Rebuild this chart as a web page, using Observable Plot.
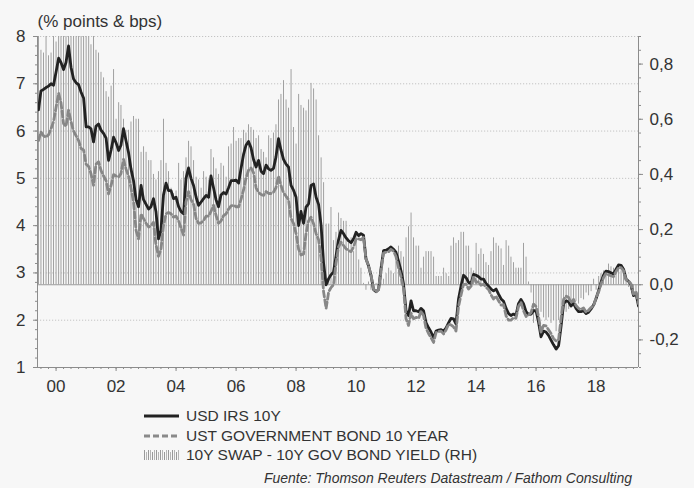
<!DOCTYPE html>
<html><head><meta charset="utf-8">
<script src="https://cdn.jsdelivr.net/npm/d3@7"></script>
<script src="https://cdn.jsdelivr.net/npm/@observablehq/plot@0.6"></script>
<style>
html,body{margin:0;padding:0;background:#f7f7f7;}
#wrap{position:relative;width:694px;height:488px;font-family:"Liberation Sans",Arial,sans-serif;color:#333;overflow:hidden;}
#chart{position:absolute;left:0;top:0;}
.leg{position:absolute;left:144px;height:20px;line-height:20px;font-size:15.5px;display:flex;align-items:center;white-space:nowrap;}
.leg svg{margin-right:7px;display:block;}
#cap{position:absolute;right:62px;top:468px;line-height:20px;font-style:italic;font-size:14px;white-space:nowrap;}
</style></head>
<body><div id="wrap"><div id="chart"></div>
<div class="leg" style="top:406px"><svg width="35" height="20"><line x1="0" x2="35" y1="10" y2="10" stroke="#222" stroke-width="3"/></svg><span id="l1"></span></div>
<div class="leg" style="top:426px"><svg width="35" height="20"><line x1="0" x2="35" y1="10" y2="10" stroke="#8a8a8a" stroke-width="3" stroke-dasharray="6,3"/></svg><span id="l2"></span></div>
<div class="leg" style="top:445px"><svg id="barsw" width="35" height="20"></svg><span id="l3"></span></div>
<div id="cap"></div>
</div>
<script>
// ---- data (monthly, Jun 1999 .. Jun 2019) ----
const firstMonth = [1999, 5]; // year, month index (0 = Jan)
const irs10y = [
 6.45,6.85,6.88,6.92,6.95,7.00,6.97,
 7.25,7.54,7.45,7.30,7.45,7.80,7.35,7.10,7.02,6.98,6.82,6.70,
 6.09,6.09,6.05,5.77,6.10,6.15,6.02,5.95,5.85,5.38,5.60,5.87,
 5.75,5.59,5.70,6.05,5.80,5.55,5.20,4.95,4.55,4.40,4.85,4.55,
 4.45,4.35,4.40,4.57,4.30,3.72,3.90,4.65,4.90,4.74,4.74,4.57,
 4.60,4.40,4.30,4.25,5.00,5.22,5.00,4.85,4.60,4.43,4.50,4.57,
 4.64,4.60,5.05,4.80,4.55,4.40,4.65,4.70,4.67,4.80,4.95,4.95,
 4.96,4.90,5.20,5.50,5.70,5.78,5.65,5.40,5.24,5.38,5.15,5.10,
 5.28,5.20,5.17,5.21,5.45,5.84,5.60,5.40,5.30,5.24,4.85,4.75,
 4.60,4.00,4.30,4.05,4.39,4.46,4.85,4.88,4.60,4.45,4.00,3.20,
 2.75,2.88,2.96,3.02,3.35,3.70,3.90,3.83,3.74,3.68,3.64,3.72,
 3.86,3.79,3.83,3.80,3.30,3.15,2.95,2.65,2.60,2.65,3.10,3.47,
 3.48,3.51,3.55,3.50,3.44,3.25,3.05,2.77,2.20,2.10,2.41,2.20,
 2.20,2.18,2.25,2.20,1.95,1.84,1.75,1.63,1.77,1.79,1.80,1.77,
 1.84,1.95,2.04,2.03,1.92,2.45,2.72,2.95,2.90,2.80,2.78,2.97,
 2.95,2.92,2.87,2.87,2.78,2.72,2.66,2.62,2.66,2.55,2.45,2.40,
 2.25,2.14,2.10,2.13,2.10,2.35,2.44,2.35,2.18,2.12,2.13,2.20,
 2.20,1.95,1.65,1.77,1.75,1.68,1.58,1.48,1.39,1.46,1.88,2.35,
 2.41,2.39,2.30,2.36,2.25,2.18,2.18,2.20,2.14,2.17,2.24,2.32,
 2.46,2.63,2.80,2.95,3.04,3.03,3.00,2.98,3.08,3.17,3.16,3.08,
 2.87,2.82,2.75,2.52,2.57,2.30
];
const ust10y = [
 5.80,5.98,5.90,5.87,5.92,6.05,6.20,
 6.50,6.80,6.60,6.16,6.10,6.44,6.20,6.00,5.90,5.80,5.63,5.60,
 5.30,5.25,5.10,4.85,5.30,5.35,5.17,5.05,4.95,4.67,4.85,5.08,
 5.05,5.03,5.10,5.40,5.20,5.05,4.80,4.50,3.90,3.72,4.25,4.15,
 4.05,3.97,4.00,4.07,3.60,3.35,3.50,4.00,4.25,4.28,4.25,4.18,
 4.20,4.10,3.95,3.80,4.50,4.72,4.55,4.45,4.15,4.05,4.06,4.11,
 4.20,4.20,4.30,4.43,4.22,4.05,4.10,4.21,4.25,4.35,4.42,4.43,
 4.40,4.40,4.55,4.75,5.00,5.17,5.22,5.12,4.80,4.70,4.66,4.64,
 4.72,4.68,4.68,4.71,4.80,5.05,4.85,4.70,4.62,4.55,4.15,4.05,
 3.83,3.50,3.38,3.40,3.83,4.10,4.18,4.04,3.83,3.70,3.30,2.60,
 2.25,2.60,2.69,2.75,3.20,3.55,3.65,3.58,3.51,3.47,3.45,3.55,
 3.72,3.72,3.70,3.75,3.30,3.15,2.96,2.66,2.60,2.65,3.05,3.42,
 3.44,3.45,3.50,3.46,3.35,3.11,2.93,2.67,2.03,1.89,2.15,2.03,
 2.06,2.04,2.19,2.10,1.83,1.72,1.63,1.53,1.74,1.76,1.77,1.71,
 1.80,1.92,1.90,1.86,1.77,2.29,2.53,2.76,2.76,2.66,2.72,2.92,
 2.80,2.81,2.74,2.76,2.70,2.65,2.54,2.45,2.51,2.41,2.32,2.33,
 2.09,2.00,2.00,2.05,2.04,2.29,2.38,2.20,2.08,2.11,2.16,2.34,
 2.29,2.07,1.75,1.89,1.88,1.80,1.72,1.61,1.56,1.59,2.05,2.44,
 2.51,2.48,2.37,2.44,2.31,2.25,2.23,2.26,2.17,2.21,2.27,2.30,
 2.48,2.60,2.76,2.90,2.99,2.96,2.94,2.92,3.03,3.11,3.11,3.05,
 2.85,2.83,2.77,2.55,2.61,2.35
];
const swapSpread = [
 0.95,0.85,0.84,0.95,0.83,0.84,0.95,
 0.88,1.05,1.10,1.15,1.20,1.10,1.10,1.05,1.00,1.05,1.00,0.98,
 0.95,0.92,0.87,1.00,0.85,0.84,0.77,0.75,0.70,0.68,0.72,0.78,
 0.60,0.66,0.65,0.60,0.56,0.56,0.59,0.61,0.60,0.60,0.48,0.50,
 0.48,0.45,0.45,0.40,0.38,0.41,0.45,0.60,0.44,0.41,0.35,0.33,
 0.34,0.44,0.38,0.41,0.46,0.52,0.50,0.45,0.39,0.38,0.35,0.41,
 0.39,0.38,0.49,0.46,0.42,0.40,0.44,0.43,0.39,0.50,0.51,0.57,
 0.52,0.53,0.53,0.56,0.55,0.58,0.57,0.56,0.53,0.54,0.49,0.48,
 0.46,0.54,0.53,0.55,0.58,0.67,0.69,0.74,0.67,0.64,0.78,0.57,
 0.51,0.69,0.65,0.64,0.63,0.67,0.73,0.71,0.67,0.54,0.46,0.37,
 0.22,0.22,0.28,0.16,0.19,0.26,0.24,0.23,0.23,0.15,0.17,0.12,
 0.19,0.09,0.06,0.005,-0.02,0.01,-0.02,0.00,0.005,0.00,0.05,0.02,
 0.04,0.06,0.05,0.04,0.09,0.14,0.12,0.10,0.17,0.21,0.26,0.17,
 0.14,0.14,0.06,0.10,0.12,0.12,0.12,0.10,0.03,0.03,0.03,0.06,
 0.04,0.03,0.14,0.17,0.15,0.16,0.19,0.19,0.14,0.14,0.06,0.05,
 0.15,0.11,0.13,0.11,0.08,0.07,0.12,0.17,0.15,0.14,0.13,0.07,
 0.16,0.14,0.10,0.08,0.06,0.06,0.06,0.15,0.10,0.01,-0.03,-0.14,
 -0.09,-0.12,-0.10,-0.12,-0.13,-0.12,-0.14,-0.13,-0.17,-0.13,-0.17,-0.09,
 -0.10,-0.09,-0.07,-0.08,-0.06,-0.07,-0.05,-0.055,-0.03,-0.04,-0.025,0.02,
 -0.02,0.03,0.04,0.05,0.05,0.075,0.065,0.06,0.05,0.065,0.05,0.035,
 0.02,-0.01,-0.02,-0.03,-0.04,-0.05
];
const leftDomain = [1, 8];
const rightDomain = [-0.3, 0.9];
const leftTicks = [1, 2, 3, 4, 5, 6, 7, 8];
const rightTicks = [-0.2, 0, 0.2, 0.4, 0.6, 0.8];
const xTickYears = [2000, 2002, 2004, 2006, 2008, 2010, 2012, 2014, 2016, 2018];
const xDomain = [new Date(Date.UTC(1999, 4, 20)), new Date(Date.UTC(2019, 5, 1))];
const titleText = "(% points & bps)";
const seriesNames = ["USD IRS 10Y", "UST GOVERNMENT BOND 10 YEAR", "10Y SWAP - 10Y GOV BOND YIELD (RH)"];
const sourceText = "Fuente: Thomson Reuters Datastream / Fathom Consulting";

// ---- build ----
const data = irs10y.map((v, i) => ({
  date: new Date(Date.UTC(firstMonth[0], firstMonth[1] + i, 1)),
  irs: v, ust: ust10y[i], spread: swapSpread[i]
}));
const r2l = d3.scaleLinear().domain(rightDomain).range(leftDomain);
const zeroL = r2l(0);
const fmtR = v => { const r = Math.round(r2l.invert(v) * 10) / 10; return (r === 0 ? "0.0" : r.toFixed(1)).replace(".", ","); };
const leftMinor = d3.range(leftDomain[0], leftDomain[1] + 1e-9, 0.2);
const rightMinor = d3.range(rightDomain[0], rightDomain[1] + 1e-9, 0.05).map(r2l);
const xMajor = xTickYears.map(y => new Date(Date.UTC(y, 0, 1)));
const xMinor = d3.utcMonth.every(3).range(xDomain[0], xDomain[1]);
const axisCol = "#8c8c8c";
const font = "'Liberation Sans', Arial, sans-serif";

const chart = Plot.plot({
  width: 694, height: 400,
  marginTop: 36, marginBottom: 33, marginLeft: 37, marginRight: 56,
  style: {background: "transparent", fontFamily: font, fontSize: "17px", color: "#333", overflow: "visible"},
  x: {type: "utc", domain: xDomain, axis: null},
  y: {domain: leftDomain, axis: null, label: null},
  marks: [
    Plot.ruleY(leftTicks.slice(1), {stroke: "#c4c4c4", strokeDasharray: "1.2,1.8", strokeWidth: 1}),
    Plot.ruleX(data, {x: "date", y1: () => zeroL, y2: d => r2l(d.spread), stroke: "#a0a0a0", strokeWidth: 1, clip: true}),
    Plot.ruleY([zeroL], {stroke: "#9a9a9a", strokeWidth: 1}),
    Plot.line(data, {x: "date", y: "irs", stroke: "#222", strokeWidth: 2.8, clip: true}),
    Plot.line(data, {x: "date", y: "ust", stroke: "#878787", strokeWidth: 2.8, strokeDasharray: "6,3", clip: true}),
    Plot.ruleX([xDomain[0]], {stroke: axisCol}),
    Plot.ruleX([xDomain[1]], {stroke: axisCol}),
    Plot.ruleY([leftDomain[0]], {stroke: axisCol}),
    Plot.axisY(leftMinor, {anchor: "left", tickSize: 2, stroke: axisCol, tickFormat: () => "", label: null}),
    Plot.axisY(leftTicks, {anchor: "left", tickSize: 4, tickPadding: 8, stroke: axisCol, fill: "#333", fontSize: 17, label: null}),
    Plot.axisY(rightMinor, {anchor: "right", tickSize: 2, stroke: axisCol, tickFormat: () => "", label: null}),
    Plot.axisY(rightTicks.map(r2l), {anchor: "right", tickSize: 4, tickPadding: 7, stroke: axisCol, fill: "#333", fontSize: 17, tickFormat: fmtR, label: null}),
    Plot.axisX(xMinor, {anchor: "bottom", tickSize: 2, stroke: axisCol, tickFormat: () => "", label: null}),
    Plot.axisX(xMajor, {anchor: "bottom", tickSize: 4, tickPadding: 8, stroke: axisCol, fill: "#333", fontSize: 17, tickFormat: d3.utcFormat("%y"), label: null}),
    Plot.text([titleText], {text: d => d, frameAnchor: "top-left", dy: -22, textAnchor: "start", fontSize: 17, fill: "#333"})
  ]
});
document.getElementById("chart").appendChild(chart);
document.getElementById("l1").textContent = seriesNames[0];
document.getElementById("l2").textContent = seriesNames[1];
document.getElementById("l3").textContent = seriesNames[2];
document.getElementById("cap").textContent = sourceText;
// legend swatch for the bars
const sw = d3.select("#barsw");
d3.range(0.5, 35, 2).forEach((x, i) => sw.append("line").attr("x1", x).attr("x2", x)
  .attr("y1", i % 3 === 1 ? 7 : 5).attr("y2", 15).attr("stroke", i % 2 ? "#b5b5b5" : "#999").attr("stroke-width", 1));
</script>
</body></html>
